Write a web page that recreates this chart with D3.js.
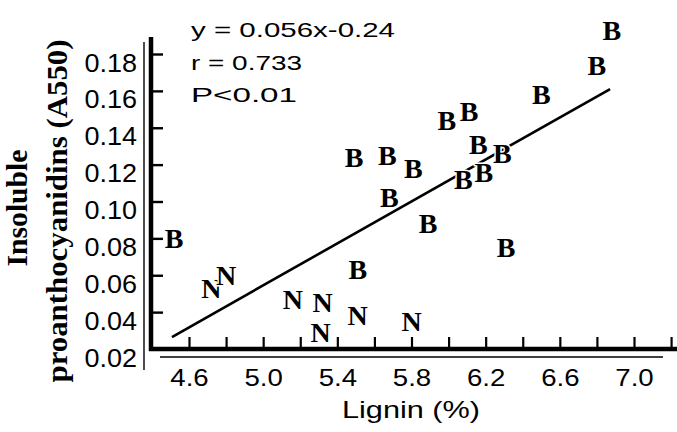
<!DOCTYPE html>
<html><head><meta charset="utf-8">
<script src="https://cdn.jsdelivr.net/npm/d3@7/dist/d3.min.js"></script>
<style>body{margin:0;background:#fff}svg{display:block}</style>
</head><body><svg id="c" width="677" height="432"></svg>
<script>
// ---- data ----
const bX = [4.52, 6.88, 6.80, 6.50, 5.99, 6.11, 5.49, 5.67, 5.81, 6.16, 6.29, 6.08, 6.19, 5.68, 5.89, 6.31, 5.51];
const bY = [0.080, 0.193, 0.174, 0.158, 0.144, 0.149, 0.124, 0.125, 0.118, 0.131, 0.126, 0.112, 0.116, 0.102, 0.088, 0.075, 0.063];
const nX = [4.72, 4.80, 5.16, 5.32, 5.31, 5.51, 5.80];
const nY = [0.053, 0.060, 0.047, 0.045, 0.029, 0.038, 0.035];
const fitX = [4.508, 6.871];
const fitY = [0.0265, 0.161];
const xTicks = [4.6, 4.8, 5.0, 5.2, 5.4, 5.6, 5.8, 6.0, 6.2, 6.4, 6.6, 6.8, 7.0, 7.2];
const xTickLabels = ["4.6", "5.0", "5.4", "5.8", "6.2", "6.6", "7.0"];
const yTicks = [0.02, 0.04, 0.06, 0.08, 0.10, 0.12, 0.14, 0.16, 0.18];
const yTickLabels = ["0.02", "0.04", "0.06", "0.08", "0.10", "0.12", "0.14", "0.16", "0.18"];
const annotation = ["y = 0.056x-0.24", "r = 0.733", "P<0.01"];
const xTitle = "Lignin  (%)";
const yTitle = ["Insoluble", "proanthocyanidins (A550)"];

// ---- layout ----
const svg = d3.select("#c");
const x = d3.scaleLinear().domain([4.6, 7.0]).range([189, 634]);
const y = d3.scaleLinear().domain([0.02, 0.18]).range([349, 54]);
const sans = "'Liberation Sans', Arial, sans-serif";
const serif = "'Liberation Serif', 'Times New Roman', serif";
const axX = 151, axY = 349;

function stretch(sel, f) {
  sel.each(function () {
    const w = this.getComputedTextLength();
    d3.select(this).attr("textLength", w * f).attr("lengthAdjust", "spacingAndGlyphs");
  });
}

// thin frame lines
svg.append("line").attr("x1", 144).attr("x2", 144).attr("y1", 42).attr("y2", 370)
  .attr("stroke", "#000").attr("stroke-width", 1.4);
svg.append("line").attr("x1", 160).attr("x2", 663).attr("y1", 357).attr("y2", 357)
  .attr("stroke", "#000").attr("stroke-width", 1.4);

// x axis (ticks pointing up)
const xAxis = d3.axisBottom(x).tickValues(xTicks).tickSize(-12).tickPadding(0)
  .tickFormat(d => { const s = d.toFixed(1); return xTickLabels.includes(s) ? s : ""; });
const gx = svg.append("g").attr("transform", `translate(0,${axY})`).call(xAxis);
gx.select(".domain").remove();
gx.selectAll(".tick line").attr("stroke", "#000").attr("stroke-width", 2.2);
gx.selectAll(".tick text").attr("fill", "#000").attr("font-family", sans).attr("font-size", 23)
  .attr("y", 37).attr("dy", 0).call(stretch, 1.2);

// y axis (ticks pointing right)
const yAxis = d3.axisLeft(y).tickValues(yTicks).tickSize(-12).tickPadding(14)
  .tickFormat(d => yTickLabels[yTicks.indexOf(d)]);
const gy = svg.append("g").attr("transform", `translate(${axX},0)`).call(yAxis);
gy.select(".domain").remove();
gy.selectAll(".tick line").attr("stroke", "#000").attr("stroke-width", 2.4);
gy.selectAll(".tick text").attr("fill", "#000").attr("font-family", sans).attr("font-size", 25)
  .attr("y", 8).attr("dy", "0.36em").call(stretch, 1.08);

// thick axis lines
svg.append("line").attr("x1", axX).attr("x2", axX).attr("y1", 37).attr("y2", axY + 2)
  .attr("stroke", "#000").attr("stroke-width", 4.5);
svg.append("line").attr("x1", axX - 2).attr("x2", 677).attr("y1", axY).attr("y2", axY)
  .attr("stroke", "#000").attr("stroke-width", 4.5);

// regression line
svg.append("path")
  .datum(fitX.map((v, i) => [v, fitY[i]]))
  .attr("d", d3.line().x(d => x(d[0])).y(d => y(d[1])))
  .attr("stroke", "#000").attr("stroke-width", 2.6).attr("fill", "none");

// markers
function markers(xs, ys, ch) {
  svg.append("g").selectAll("text").data(xs.map((v, i) => [v, ys[i]])).join("text")
    .attr("x", d => x(d[0])).attr("y", d => y(d[1])).attr("dy", "0.34em")
    .attr("text-anchor", "middle")
    .attr("font-family", serif).attr("font-weight", "bold").attr("font-size", 28)
    .attr("fill", "#000").attr("stroke", "#fff").attr("stroke-width", 3)
    .attr("paint-order", "stroke")
    .text(ch);
}
markers(bX, bY, "B");
markers(nX, nY, "N");

// annotation
const annW = [204, 111, 106];
const annY = [37, 70, 102];
svg.append("g").selectAll("text").data(annotation).join("text")
  .attr("x", 191).attr("y", (d, i) => annY[i])
  .attr("font-family", sans).attr("font-size", 21).attr("fill", "#000")
  .attr("textLength", (d, i) => annW[i]).attr("lengthAdjust", "spacingAndGlyphs")
  .text(d => d);

// x title
svg.append("text").attr("x", 342).attr("y", 418)
  .attr("font-family", sans).attr("font-size", 24).attr("fill", "#000")
  .attr("textLength", 138).attr("lengthAdjust", "spacingAndGlyphs")
  .text(xTitle);

// y title (two lines, rotated)
const yT = [[27, 208, 117], [67, 211, 343]];
yTitle.forEach((t, i) => {
  svg.append("text")
    .attr("transform", `translate(${yT[i][0]},${yT[i][1]}) rotate(-90)`)
    .attr("text-anchor", "middle")
    .attr("font-family", serif).attr("font-weight", "bold").attr("font-size", 29)
    .attr("fill", "#000")
    .attr("textLength", yT[i][2]).attr("lengthAdjust", "spacingAndGlyphs")
    .text(t);
});
</script></body></html>
